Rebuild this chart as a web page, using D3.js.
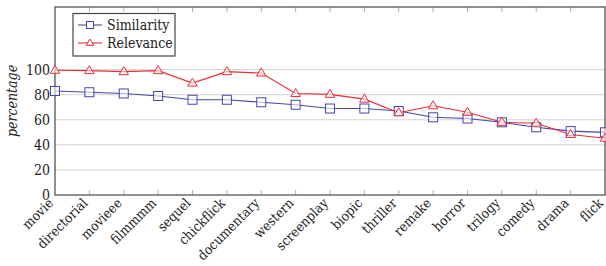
<!DOCTYPE html>
<html>
<head>
<meta charset="utf-8">
<script src="https://cdn.jsdelivr.net/npm/d3@7/dist/d3.min.js"></script>
<style>
	body { margin: 0; background: #fff; }
	text { font-family: "DejaVu Serif Condensed", "DejaVu Serif", serif; font-stretch: condensed; }
</style>
</head>
<body>
<svg id="chart" width="606" height="266"></svg>
<script>
// categories along the x axis
var categories = ["movie", "directorial", "movieee", "filmmmm", "sequel", "chickflick", "documentary",
	"western", "screenplay", "biopic", "thriller", "remake", "horror", "trilogy", "comedy", "drama", "flick"];
var similarity = [83, 82, 81, 79, 76, 76, 74, 72, 69, 69, 67, 62, 61, 58, 54, 51, 50];
var relevance = [99.5, 99.2, 98.4, 99.2, 89.3, 98.4, 97.3, 81, 80.3, 76.5, 65.6, 71.2, 66, 58, 57.3, 48.3, 45.3];
var yTicks = [0, 20, 40, 60, 80, 100];
var seriesNames = ["Similarity", "Relevance"];

var margin = {top: 7, right: 1, bottom: 71, left: 55};
var width = 606 - margin.left - margin.right,
	height = 266 - margin.top - margin.bottom;

var svg = d3.select("#chart");
var g = svg.append("g")
	.attr("transform", "translate(" + margin.left + "," + margin.top + ")");

var x = d3.scalePoint()
	.domain(categories)
	.range([0, width]);

var y = d3.scaleLinear()
	.domain([0, 150])
	.range([height, 0]);

// horizontal grid
g.append("g")
	.selectAll("line")
	.data(yTicks.slice(1))
	.enter().append("line")
	.attr("x1", 0)
	.attr("x2", width)
	.attr("y1", function(d) { return y(d); })
	.attr("y2", function(d) { return y(d); })
	.style("stroke", "#d0d0d0")
	.style("stroke-width", 1);

// small ticks inside the frame, top and bottom
var tickData = categories.slice(1, categories.length - 1);
g.append("g")
	.selectAll("line")
	.data(tickData)
	.enter().append("line")
	.attr("x1", function(d) { return x(d); })
	.attr("x2", function(d) { return x(d); })
	.attr("y1", 0)
	.attr("y2", 5)
	.style("stroke", "#b0b0b0");
g.append("g")
	.selectAll("line")
	.data(tickData)
	.enter().append("line")
	.attr("x1", function(d) { return x(d); })
	.attr("x2", function(d) { return x(d); })
	.attr("y1", height)
	.attr("y2", height - 5)
	.style("stroke", "#b0b0b0");

// frame
g.append("rect")
	.attr("x", 0)
	.attr("y", 0)
	.attr("width", width)
	.attr("height", height)
	.style("fill", "none")
	.style("stroke", "#555")
	.style("stroke-width", 1.3);

// y axis labels
g.append("g")
	.selectAll("text")
	.data(yTicks)
	.enter().append("text")
	.attr("x", -5)
	.attr("y", function(d) { return y(d); })
	.attr("dy", "0.35em")
	.attr("text-anchor", "end")
	.style("font-size", "14px")
	.style("fill", "#222")
	.text(function(d) { return d; });

// x axis labels, rotated
g.append("g")
	.selectAll("text")
	.data(categories)
	.enter().append("text")
	.attr("text-anchor", "end")
	.attr("transform", function(d) { return "translate(" + (x(d) - 1) + "," + (height + 9) + ") rotate(-45)"; })
	.style("font-size", "13.5px")
	.style("fill", "#222")
	.text(function(d) { return d; });

// y axis title
svg.append("text")
	.attr("transform", "translate(17,101) rotate(-90)")
	.attr("text-anchor", "middle")
	.style("font-size", "14px")
	.style("font-style", "italic")
	.style("fill", "#222")
	.text("percentage");

var line = d3.line()
	.x(function(d, i) { return x(categories[i]); })
	.y(function(d) { return y(d); });

var colors = {Similarity: "#4646a6", Relevance: "#ee2c36"};

g.append("path")
	.datum(similarity)
	.attr("d", line)
	.style("fill", "none")
	.style("stroke", colors.Similarity)
	.style("stroke-width", 1.1);

g.append("path")
	.datum(relevance)
	.attr("d", line)
	.style("fill", "none")
	.style("stroke", colors.Relevance)
	.style("stroke-width", 1.1);

var triangle = function(cx, cy, r) {
	return "M" + cx + "," + (cy - r) + "L" + (cx + r * 0.95) + "," + (cy + r * 0.6) + "L" + (cx - r * 0.95) + "," + (cy + r * 0.6) + "Z";
};

g.append("g")
	.selectAll("rect")
	.data(similarity)
	.enter().append("rect")
	.attr("x", function(d, i) { return x(categories[i]) - 4.5; })
	.attr("y", function(d) { return y(d) - 4.5; })
	.attr("width", 9)
	.attr("height", 9)
	.style("fill", "#fff")
	.style("fill-opacity", 0.6)
	.style("stroke", colors.Similarity)
	.style("stroke-width", 1);

g.append("g")
	.selectAll("path")
	.data(relevance)
	.enter().append("path")
	.attr("d", function(d, i) { return triangle(x(categories[i]), y(d), 5); })
	.style("fill", "#fff")
	.style("fill-opacity", 0.6)
	.style("stroke", colors.Relevance)
	.style("stroke-width", 1);

// legend
var legend = svg.append("g")
	.attr("transform", "translate(73,13.5)");

legend.append("rect")
	.attr("width", 102)
	.attr("height", 42.5)
	.style("fill", "#fff")
	.style("stroke", "#444")
	.style("stroke-width", 1.2);

var items = legend.selectAll(".item")
	.data(seriesNames)
	.enter().append("g")
	.attr("class", "item")
	.attr("transform", function(d, i) { return "translate(0," + (11.5 + i * 18) + ")"; });

items.append("line")
	.attr("x1", 5)
	.attr("x2", 29)
	.style("stroke", function(d) { return colors[d]; })
	.style("stroke-width", 1.1);

items.filter(function(d) { return d == "Similarity"; })
	.append("rect")
	.attr("x", 13.5)
	.attr("y", -3.5)
	.attr("width", 7)
	.attr("height", 7)
	.style("fill", "#fff")
	.style("stroke", colors.Similarity);

items.filter(function(d) { return d == "Relevance"; })
	.append("path")
	.attr("d", triangle(17, 0, 4))
	.style("fill", "#fff")
	.style("stroke", colors.Relevance);

items.append("text")
	.attr("x", 34)
	.attr("dy", "0.35em")
	.style("font-size", "14px")
	.style("fill", "#222")
	.text(function(d) { return d; });
</script>
</body>
</html>
